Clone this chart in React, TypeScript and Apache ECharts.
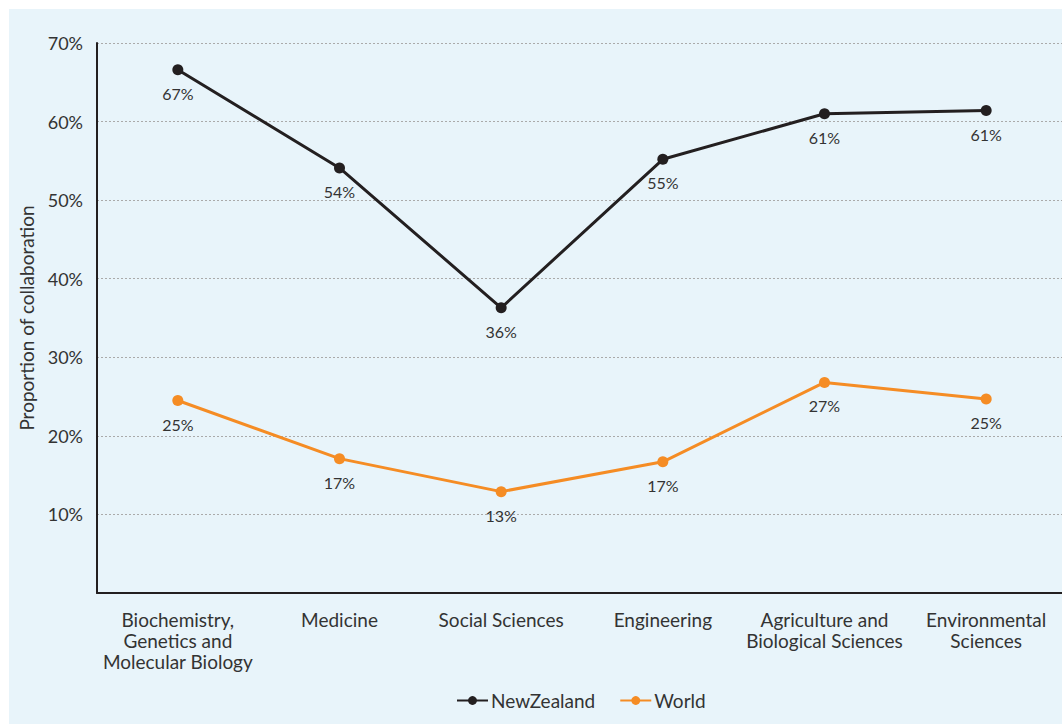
import React, { useEffect, useRef } from "react";
import * as echarts from "echarts";

const categories = [
  "Biochemistry,\nGenetics and\nMolecular Biology",
  "Medicine",
  "Social Sciences",
  "Engineering",
  "Agriculture and\nBiological Sciences",
  "Environmental\nSciences",
];
const newZealand = [66.6, 54.1, 36.3, 55.2, 61.0, 61.4];
const world = [24.5, 17.1, 12.9, 16.7, 26.8, 24.7];
const yTicks = [0, 10, 20, 30, 40, 50, 60, 70];

const FONT = "Lato, 'Open Sans', sans-serif";

export default function App() {
  const ref = useRef<HTMLDivElement>(null);
  useEffect(() => {
    if (!ref.current) return;
    const chart = echarts.init(ref.current, null, { renderer: "svg" });
    const labelCfg = {
      show: true,
      position: "bottom",
      distance: 10,
      color: "#333",
      fontSize: 16,
      fontFamily: FONT,
      formatter: (p: any) => Math.round(p.value) + "%",
    };
    chart.setOption({
      animation: false,
      backgroundColor: "#E8F4FA",
      textStyle: { fontFamily: FONT },
      grid: { left: 86, right: 0, top: 34, bottom: 131, containLabel: false },
      legend: {
        top: 677,
        left: 442,
        itemWidth: 31,
        itemHeight: 11,
        itemGap: 24,
        textStyle: { fontSize: 19, color: "#333", fontFamily: FONT, padding: [0, 0, 0, -2] },
        data: ["NewZealand", "World"],
      },
      xAxis: {
        type: "category",
        data: categories,
        boundaryGap: true,
        axisLine: { lineStyle: { color: "#231F20", width: 2 } },
        axisTick: { show: false },
        axisLabel: {
          color: "#333",
          fontSize: 19,
          lineHeight: 21,
          margin: 16,
          fontFamily: FONT,
          interval: 0,
        },
      },
      yAxis: {
        type: "value",
        min: yTicks[0],
        max: yTicks[yTicks.length - 1],
        interval: 10,
        name: "Proportion of collaboration",
        nameLocation: "middle",
        nameGap: 61,
        nameTextStyle: { fontSize: 19, color: "#333", fontFamily: FONT },
        axisLine: { show: true, lineStyle: { color: "#231F20", width: 2 } },
        axisTick: { show: false },
        axisLabel: {
          color: "#333",
          fontSize: 18,
          margin: 14,
          fontFamily: FONT,
          formatter: (v: number) => (v === 0 ? "" : v + "%"),
        },
        splitLine: {
          show: true,
          lineStyle: { color: "#aaa", type: [2, 2], width: 1 },
        },
      },
      series: [
        {
          name: "NewZealand",
          type: "line",
          data: newZealand,
          symbol: "circle",
          symbolSize: 11,
          lineStyle: { color: "#231F20", width: 3 },
          itemStyle: { color: "#231F20" },
          label: labelCfg,
        },
        {
          name: "World",
          type: "line",
          data: world,
          symbol: "circle",
          symbolSize: 11,
          lineStyle: { color: "#F58C24", width: 3 },
          itemStyle: { color: "#F58C24" },
          label: labelCfg,
        },
      ],
    });
    return () => chart.dispose();
  }, []);
  return (
    <div
      style={{
        position: "absolute",
        left: 9,
        top: 9,
        width: 1053,
        height: 715,
        overflow: "hidden",
        background: "#E8F4FA",
      }}
    >
      <div ref={ref} style={{ width: 1058, height: 715 }} />
    </div>
  );
}
